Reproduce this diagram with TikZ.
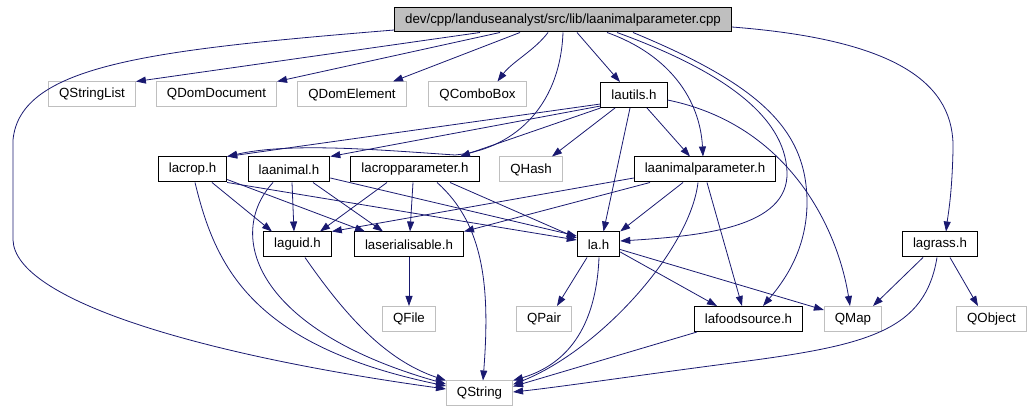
\documentclass[tikz,border=0pt]{standalone}
\usepackage{fontspec}
\setmainfont{Liberation Sans}
\usetikzlibrary{arrows.meta}
\definecolor{edgeblue}{RGB}{25,25,112}
\definecolor{boxgray}{RGB}{191,191,191}

\begin{document}
\begin{tikzpicture}[>={Triangle[length=10pt,width=7pt]}, x=1pt, y=-1pt,
    font=\fontsize{13.3}{16}\selectfont,
    incfile/.style={draw=black, line width=1pt, inner xsep=10.5pt, inner ysep=0pt, minimum height=25pt},
    extfile/.style={incfile, draw=boxgray},
    incl/.style={->, draw=edgeblue, line width=0.8pt}]
  \useasboundingbox (0,0) rectangle (1031,411);
  % the source file
  \node[incfile, fill=boxgray, minimum height=24pt] (main) at (563,20) {dev/cpp/landuseanalyst/src/lib/laanimalparameter.cpp};
  % first row
  \node[extfile] (qstringlist) at (92,94.5) {QStringList};
  \node[extfile] (qdomdocument) at (216.5,94.5) {QDomDocument};
  \node[extfile] (qdomelement) at (352,94.5) {QDomElement};
  \node[extfile] (qcombobox) at (477.5,94.5) {QComboBox};
  \node[incfile] (lautils) at (634,95) {lautils.h};
  % second row
  \node[incfile] (lacrop) at (192.5,169.5) {lacrop.h};
  \node[incfile] (laanimal) at (289,169.5) {laanimal.h};
  \node[incfile] (lacropparameter) at (415,169.5) {lacropparameter.h};
  \node[extfile] (qhash) at (531,169.5) {QHash};
  \node[incfile] (laanimalparameter) at (705,169.5) {laanimalparameter.h};
  % third row
  \node[incfile] (laguid) at (297.5,244.5) {laguid.h};
  \node[incfile] (laserialisable) at (409,244.5) {laserialisable.h};
  \node[incfile] (la) at (598.5,244.5) {la.h};
  \node[incfile] (lagrass) at (940,244.5) {lagrass.h};
  % fourth row
  \node[extfile] (qfile) at (409,319) {QFile};
  \node[extfile] (qpair) at (544,319) {QPair};
  \node[incfile] (lafoodsource) at (748.5,319) {lafoodsource.h};
  \node[extfile] (qmap) at (853,319) {QMap};
  \node[extfile] (qobject) at (991.5,319) {QObject};
  \node[extfile] (qstring) at (479.5,393.5) {QString};

  % includes of the source file
  \draw[incl] ([xshift=-83pt]main.south) -- (qstringlist.north east);
  \draw[incl] ([xshift=-63pt]main.south) -- (qdomdocument.north east);
  \draw[incl] ([xshift=-43pt]main.south) -- ([xshift=41pt]qdomelement.north);
  \draw[incl] ([xshift=-15pt]main.south) .. controls (535,50) and (512,62) .. ([xshift=20pt]qcombobox.north);
  \draw[incl] ([xshift=14pt]main.south) -- ([xshift=-14pt]lautils.north);
  \draw[incl] (main.south) .. controls (560,110) and (510,150) .. (455,155)
    .. controls (380,150) and (290,142) .. (lacrop.north east);
  \draw[incl] ([xshift=44pt]main.south) .. controls (670,55) and (700,100) .. ([xshift=-2pt]laanimalparameter.north);
  \draw[incl] ([xshift=54pt]main.south) .. controls (720,70) and (785,115) .. (787,172)
    .. controls (789,228) and (700,236) .. ([yshift=3.5pt]la.east);
  \draw[incl] ([xshift=70pt]main.south) .. controls (760,85) and (808,130) .. (807,205)
    .. controls (806,250) and (785,280) .. ([xshift=14.5pt]lafoodsource.north);
  \draw[incl] ([yshift=-7pt]main.east) .. controls (900,40) and (955,85) .. (953,150)
    .. controls (952,195) and (948,215) .. ([xshift=6pt]lagrass.north);
  \draw[incl] ([yshift=-10pt]main.west) .. controls (150,50) and (20,65) .. (13,140) -- (13,240)
    .. controls (15,300) and (200,355) .. ([yshift=4.5pt]qstring.west);

  % lautils.h
  \draw[incl] ([yshift=-9pt]lautils.west) -- (lacrop.north east);
  \draw[incl] ([yshift=-11pt]lautils.west) -- (laanimal.north east);
  \draw[incl] (lautils.south west) -- ([xshift=45pt]lacropparameter.north);
  \draw[incl] ([xshift=-19pt]lautils.south) -- ([xshift=21pt]qhash.north);
  \draw[incl] ([xshift=13pt]lautils.south) -- ([xshift=-15pt]laanimalparameter.north);
  \draw[incl] ([xshift=-4pt]lautils.south) -- ([xshift=5pt]la.north);
  \draw[incl] ([yshift=-5pt]lautils.east) .. controls (790,125) and (838,230) .. ([xshift=-3pt]qmap.north);

  % lacrop.h
  \draw[incl] ([xshift=19.5pt]lacrop.south) -- ([xshift=-25.5pt]laguid.north);
  \draw[incl] ([yshift=-10pt]lacrop.east) -- ([xshift=-44pt]laserialisable.north);
  \draw[incl] (lacrop.south east) -- ([yshift=4.5pt]la.west);
  \draw[incl] ([xshift=2.5pt]lacrop.south) .. controls (215,265) and (250,345) .. ([yshift=7.5pt]qstring.west);

  % laanimal.h
  \draw[incl] ([xshift=3pt]laanimal.south) -- ([xshift=-3.5pt]laguid.north);
  \draw[incl] ([xshift=24pt]laanimal.south) -- ([xshift=-26pt]laserialisable.north);
  \draw[incl] ([yshift=-8.5pt]laanimal.east) -- ([yshift=8.5pt]la.west);
  \draw[incl] ([xshift=-16pt]laanimal.south) .. controls (225,235) and (255,330) .. ([yshift=9.5pt]qstring.west);

  % lacropparameter.h
  \draw[incl] ([xshift=-28pt]lacropparameter.south) -- ([xshift=22.5pt]laguid.north);
  \draw[incl] ([xshift=-2pt]lacropparameter.south) -- ([xshift=1pt]laserialisable.north);
  \draw[incl] ([xshift=35pt]lacropparameter.south) -- ([yshift=6.5pt]la.west);
  \draw[incl] ([xshift=22pt]lacropparameter.south) .. controls (485,225) and (490,290) .. ([xshift=3.5pt]qstring.north);

  % laanimalparameter.h
  \draw[incl] ([yshift=-8.5pt]laanimalparameter.west) -- (laguid.north east);
  \draw[incl] ([xshift=-55pt]laanimalparameter.south) -- (laserialisable.north east);
  \draw[incl] ([xshift=-22pt]laanimalparameter.south) -- (la.north east);
  \draw[incl] ([xshift=2pt]laanimalparameter.south) -- ([xshift=-6.5pt]lafoodsource.north);
  \draw[incl] ([xshift=-7pt]laanimalparameter.south) .. controls (690,250) and (600,350) .. ([yshift=9pt]qstring.east);

  % la.h
  \draw[incl] ([xshift=-11.5pt]la.south) -- ([xshift=13pt]qpair.north);
  \draw[incl] ([yshift=-7.5pt]la.east) -- ([xshift=-31.5pt]lafoodsource.north);
  \draw[incl] ([yshift=-5pt]la.east) -- ([yshift=9pt]qmap.west);
  \draw[incl] ([xshift=0.5pt]la.south) .. controls (596,330) and (565,365) .. (qstring.north east);

  % the rest
  \draw[incl] (laserialisable) -- (qfile);
  \draw[incl] ([xshift=7.5pt]laguid.south) .. controls (345,315) and (385,360) .. (qstring.north west);
  \draw[incl] ([xshift=-51.5pt]lafoodsource.south) -- ([yshift=7pt]qstring.east);
  \draw[incl] ([xshift=-17pt]lagrass.south) -- ([xshift=20pt]qmap.north);
  \draw[incl] ([xshift=10pt]lagrass.south) -- ([xshift=-13.5pt]qobject.north);
  \draw[incl] ([xshift=-3pt]lagrass.south) .. controls (925,330) and (870,345) .. (740,362)
    .. controls (640,375) and (560,387) .. ([yshift=1.5pt]qstring.east);
\end{tikzpicture}
\end{document}
